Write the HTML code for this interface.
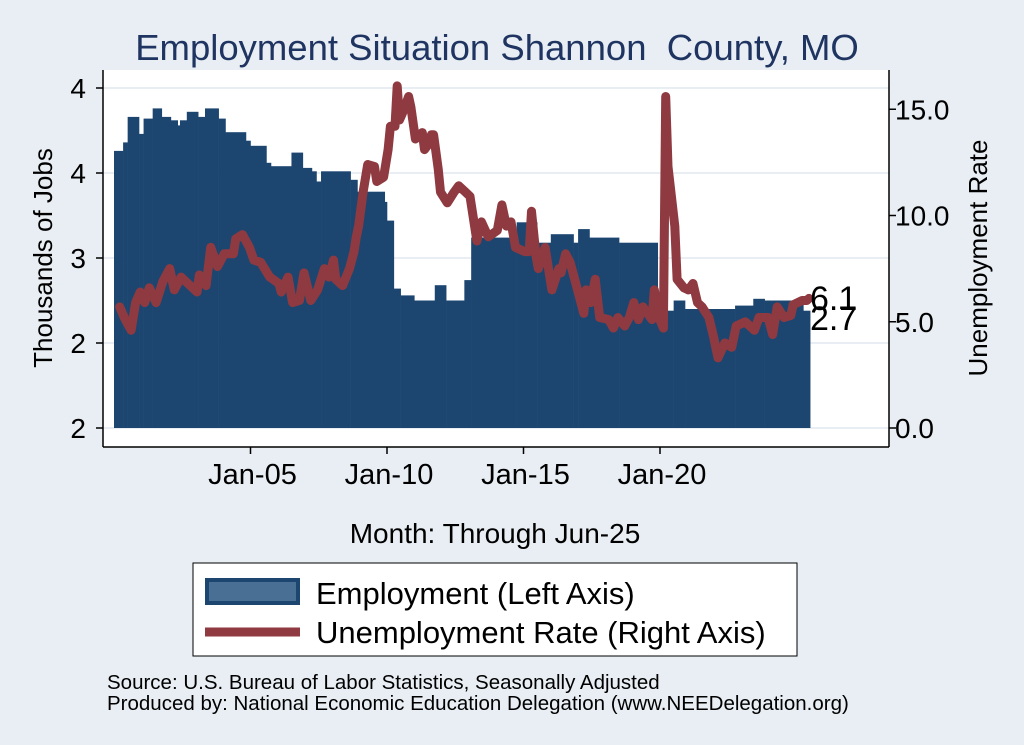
<!DOCTYPE html>
<html><head><meta charset="utf-8"><style>
html,body{margin:0;padding:0;background:#e8eef3;}
svg{display:block;font-family:"Liberation Sans",sans-serif;}
</style></head><body>
<svg id="chart" width="1024" height="745" viewBox="0 0 1024 745">
<rect x="0" y="0" width="1024" height="745" fill="#e8eef3"/>
<text x="497" y="60" text-anchor="middle" font-size="36.5" fill="#1f3461" xml:space="preserve">Employment Situation Shannon  County, MO</text>
<rect x="103" y="70" width="786" height="377" fill="#ffffff"/>
<g id="grid"></g>
<g id="bars"></g>
<g id="line"></g>
<g id="axes"></g>
<text x="810" y="310" font-size="34" fill="#000">6.1</text>
<text x="810" y="330" font-size="34" fill="#000">2.7</text>
<text transform="translate(52,258) rotate(-90)" text-anchor="middle" font-size="26">Thousands of Jobs</text>
<text transform="translate(987,258) rotate(-90)" text-anchor="middle" font-size="26">Unemployment Rate</text>
<text x="495" y="543" text-anchor="middle" font-size="28">Month: Through Jun-25</text>
<g>
<rect x="193" y="563" width="604" height="93" fill="#fff" stroke="#000" stroke-width="1"/>
<rect x="205" y="578" width="95" height="27" fill="#1c4670"/>
<rect x="209" y="582" width="87" height="19" fill="#4a6f95"/>
<text x="316" y="604" font-size="31">Employment (Left Axis)</text>
<line x1="205" y1="632" x2="300" y2="632" stroke="#8e3a40" stroke-width="9"/>
<text x="316" y="643" font-size="31">Unemployment Rate (Right Axis)</text>
</g>
<text x="107" y="689" font-size="20.5">Source: U.S. Bureau of Labor Statistics, Seasonally Adjusted</text>
<text x="107" y="710" font-size="20.5">Produced by: National Economic Education Delegation (www.NEEDelegation.org)</text>
</svg>
<script>
// Employment: start month (0 = Jan-2000) of each level, and level in thousands
const empStartMonths = [0,4,6,11,13,17,21,25,28,29,32,37,40,46,49,58,60,67,69,78,83,87,89,91,104,107,119,120,123,126,132,141,146,154,157,177,186,192,202,204,209,222,239,246,251,273,281,286,303];
const empValues = [3.63,3.68,3.83,3.73,3.82,3.88,3.83,3.81,3.78,3.81,3.86,3.83,3.88,3.82,3.74,3.69,3.66,3.56,3.54,3.62,3.53,3.51,3.45,3.51,3.46,3.39,3.33,3.22,2.82,2.78,2.75,2.84,2.75,2.87,3.12,3.21,3.09,3.14,3.09,3.17,3.12,3.09,2.69,2.75,2.70,2.72,2.76,2.75,2.69];
const totalMonths = 306;
// Unemployment rate points
const urMonths = [2,4,7,9,11,13,15,18,21,24,26,29,36,37,40,42,45,48,52,53,56,59,61,64,68,72,73,76,78,81,83,86,89,92,94,96,97,100,103,105,106,107,109,111,114,115,118,120,121,123,124,125,127,129,130,132,135,136,138,139,140,142,143,146,149,151,154,156,159,161,164,168,170,172,174,176,180,182,183,185,186,189,192,195,196,198,200,202,206,207,209,211,213,217,219,221,224,226,228,230,232,236,237,239,241,242,243,246,247,250,252,254,256,258,261,263,265,268,271,273,277,281,283,287,289,291,294,297,298,302,304,305];
const urValues = [5.7,5.2,4.6,5.9,6.4,5.9,6.6,5.9,6.9,7.5,6.5,7.1,6.4,7.2,6.7,8.5,7.6,8.2,8.2,8.9,9.1,8.5,7.9,7.8,7.1,6.8,6.4,7.1,5.9,6.0,7.3,6.0,6.5,7.5,7.1,7.9,7.0,6.7,7.5,8.3,9.0,9.5,11.1,12.4,12.3,11.6,11.8,13.1,14.2,14.2,16.1,14.5,15.0,15.6,15.1,13.6,13.9,13.1,13.4,13.8,13.8,12.2,11.1,10.6,11.1,11.4,11.1,10.9,8.8,9.7,9.0,9.3,10.5,9.5,9.7,8.5,8.3,8.3,10.2,8.1,7.5,8.5,6.5,7.5,7.3,8.2,7.8,7.0,5.4,6.5,5.9,7.0,5.2,5.1,4.7,5.2,4.8,5.2,5.9,5.1,5.7,5.1,6.5,5.2,4.7,15.6,12.3,9.5,7.0,6.6,6.5,6.8,5.9,5.7,5.2,4.3,3.3,4.0,3.8,4.8,5.0,4.6,5.2,5.2,4.4,5.7,5.2,5.3,5.8,6.0,6.0,6.1];
const leftTickValues = [2.0,2.5,3.0,3.5,4.0];
const leftTickLabels = ["2","2","3","4","4"];
const rightTickValues = [0,5,10,15];
const rightTickLabels = ["0.0","5.0","10.0","15.0"];
const xTickMonths = [60,120,180,240];
const xTickLabels = ["Jan-05","Jan-10","Jan-15","Jan-20"];

const NS="http://www.w3.org/2000/svg";
const xS = m => 114 + m*2.275;
const yL = v => 428 - (v-2)*170;
const yR = v => 428 - v*21.25;
function mk(tag, attrs, parent){const e=document.createElementNS(NS,tag);for(const k in attrs)e.setAttribute(k,attrs[k]);document.getElementById(parent).appendChild(e);return e;}

leftTickValues.forEach(v=>{
  const g=mk('line',{x1:103,x2:889,y1:yL(v),y2:yL(v),stroke:'#e8eef3','stroke-width':2},'grid');
  
  
});

const yBase = yL(2.0);
empStartMonths.forEach((m,i)=>{
  const end = i+1<empStartMonths.length ? empStartMonths[i+1] : totalMonths;
  const r=mk('rect',{x:xS(m),y:yL(empValues[i]),width:xS(end)-xS(m)+0.3,height:yBase-yL(empValues[i]),fill:'#1c4670'},'bars');
  
  
});

const pts = urMonths.map((m,i)=>xS(m+0.5).toFixed(1)+','+yR(urValues[i]).toFixed(1)).join(' ');
const pl=mk('polyline',{points:pts,fill:'none',stroke:'#8e3a40','stroke-width':9,'stroke-linejoin':'round','stroke-linecap':'round'},'line');



const ax=[['line',{x1:103,x2:103,y1:70,y2:447}],['line',{x1:103,x2:889,y1:447,y2:447}],['line',{x1:889,x2:889,y1:70,y2:447}]];
ax.forEach(a=>{const e=mk(a[0],Object.assign({stroke:'#000','stroke-width':1.5},a[1]),'axes');
  
  });
leftTickValues.forEach((v,i)=>{
  const t=mk('line',{x1:96,x2:103,y1:yL(v),y2:yL(v),stroke:'#000','stroke-width':1.5},'axes');
  
  
  const l=mk('text',{x:86,y:yL(v)+10,'text-anchor':'end','font-size':28},'axes');
  l.textContent=leftTickLabels[i];
  
  
});
rightTickValues.forEach((v,i)=>{
  const t=mk('line',{x1:889,x2:896,y1:yR(v),y2:yR(v),stroke:'#000','stroke-width':1.5},'axes');
  
  
  const l=mk('text',{x:895,y:yR(v)+10,'font-size':28},'axes');
  l.textContent=rightTickLabels[i];
  
  
});
xTickMonths.forEach((m,i)=>{
  const t=mk('line',{x1:xS(m),x2:xS(m),y1:447,y2:454,stroke:'#000','stroke-width':1.5},'axes');
  
  
  const l=mk('text',{x:xS(m)+2,y:484,'text-anchor':'middle','font-size':29},'axes');
  l.textContent=xTickLabels[i];
  
  
});
</script>
</body></html>
